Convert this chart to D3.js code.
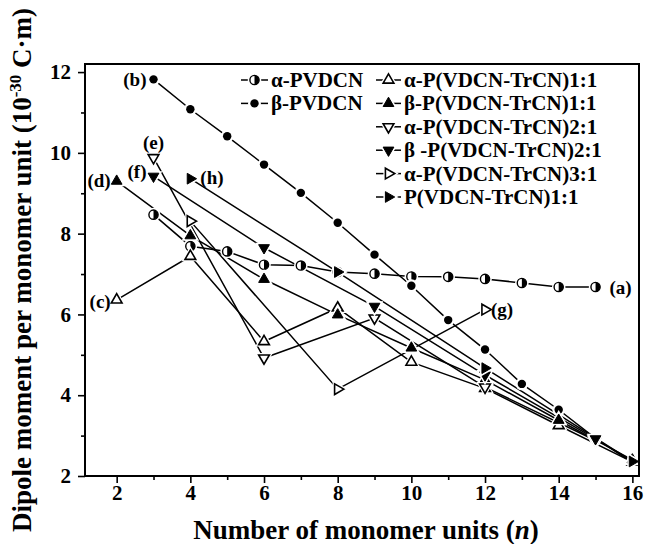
<!DOCTYPE html>
<html>
<head>
<meta charset="utf-8">
<script src="https://cdn.jsdelivr.net/npm/d3@7"></script>
<style>
  body { margin: 0; background: #fff; }
  text { font-family: "Liberation Serif", "Times New Roman", serif; font-weight: bold; fill: #000; }
</style>
</head>
<body>
<svg class="chart" width="646" height="544"></svg>
<script>
// DATA
var xTicks = [2, 4, 6, 8, 10, 12, 14, 16];
var xMinorTicks = [3, 5, 7, 9, 11, 13, 15];
var yTicks = [2, 4, 6, 8, 10, 12];
var yMinorTicks = [3, 5, 7, 9, 11];

var legendNames = ["α-PVDCN", "β-PVDCN", "α-P(VDCN-TrCN)1:1", "β-P(VDCN-TrCN)1:1",
                   "α-P(VDCN-TrCN)2:1", "β -P(VDCN-TrCN)2:1", "α-P(VDCN-TrCN)3:1", "P(VDCN-TrCN)1:1"];
var curveLabels = ["(a)", "(b)", "(c)", "(d)", "(e)", "(f)", "(g)", "(h)"];

var nA = [3, 4, 5, 6, 7, 8, 9, 10, 11, 12, 13, 14, 15];
var dipoleA = [8.47, 7.69, 7.56, 7.23, 7.21, 7.05, 7.01, 6.94, 6.93, 6.88, 6.78, 6.68, 6.68];
var nB = [3, 4, 5, 6, 7, 8, 9, 10, 11, 12, 13, 14, 15, 16];
var dipoleB = [11.82, 11.08, 10.41, 9.71, 9.01, 8.27, 7.48, 6.71, 5.86, 5.13, 4.28, 3.64, 2.93, 2.33];
var nC = [2, 4, 6, 8, 10, 12, 14, 16];
var dipoleC = [6.36, 7.44, 5.33, 6.16, 4.82, 4.17, 3.25, 2.35];
var nD = [2, 4, 6, 8, 10, 12, 14, 16];
var dipoleD = [9.30, 7.95, 6.87, 5.99, 5.17, 4.38, 3.38, 2.40];
var nE = [3, 6, 9, 12, 15];
var dipoleE = [9.88, 4.92, 5.91, 4.20, 2.88];
var nF = [3, 6, 9, 12, 15];
var dipoleF = [9.42, 7.65, 6.20, 4.50, 2.92];
var nG = [4, 8, 12];
var dipoleG = [8.31, 4.15, 6.12];
var nH = [4, 8, 12, 16];
var dipoleH = [9.36, 7.05, 4.67, 2.36];

// series table (marker + where the (x) tag goes)
var series = [
  {i: 0, n: nA, v: dipoleA, mark: "half",      tagAt: "last",  dx: 14,  dy: 7,   anchor: "start"},
  {i: 1, n: nB, v: dipoleB, mark: "dot",       tagAt: "first", dx: -7,  dy: 7,   anchor: "end"},
  {i: 2, n: nC, v: dipoleC, mark: "upOpen",    tagAt: "first", dx: -6,  dy: 8,   anchor: "end"},
  {i: 3, n: nD, v: dipoleD, mark: "up",        tagAt: "first", dx: -6,  dy: 6,   anchor: "end"},
  {i: 4, n: nE, v: dipoleE, mark: "downOpen",  tagAt: "first", dx: 0,   dy: -9,  anchor: "middle"},
  {i: 5, n: nF, v: dipoleF, mark: "down",      tagAt: "first", dx: -7,  dy: 2,   anchor: "end"},
  {i: 6, n: nG, v: dipoleG, mark: "rightOpen", tagAt: "last",  dx: 6,   dy: 6,   anchor: "start"},
  {i: 7, n: nH, v: dipoleH, mark: "right",     tagAt: "first", dx: 10,  dy: 5,   anchor: "start"}
];

var margin = {top: 64, right: 7, bottom: 68, left: 85},
    width = 646 - margin.left - margin.right,
    height = 544 - margin.top - margin.bottom;

var svg = d3.select(".chart");
var g = svg.append("g")
    .attr("transform", "translate(" + margin.left + "," + margin.top + ")");

var x = d3.scaleLinear().domain([1.14, 16.18]).range([0, width]);
var y = d3.scaleLinear().domain([2, 12.2]).range([height, 0]);

// MARKERS
var triPath = d3.symbol().type(d3.symbolTriangle).size(50)();
var rot = {up: 0, upOpen: 0, down: 180, downOpen: 180, right: 90, rightOpen: 90};

function drawMarker(sel, mark) {
  if (mark == "half" || mark == "dot") {
    var r = mark == "half" ? 4.6 : 4.2;
    sel.append("circle").attr("r", r + 2.2).attr("fill", "#fff");
    if (mark == "dot") {
      sel.append("circle").attr("r", r).attr("fill", "#000");
    } else {
      sel.append("circle").attr("r", r).attr("fill", "#fff")
          .attr("stroke", "#000").attr("stroke-width", 1.4);
      sel.append("path")
          .attr("d", "M0," + (-r) + "A" + r + "," + r + " 0 0 1 0," + r + "Z")
          .attr("fill", "#000");
    }
  } else {
    var open = mark.indexOf("Open") > 0;
    sel.append("path").attr("d", triPath)
        .attr("transform", "rotate(" + rot[mark] + ")")
        .attr("fill", "#fff").attr("stroke", "#fff").attr("stroke-width", 4);
    sel.append("path").attr("d", triPath)
        .attr("transform", "rotate(" + rot[mark] + ")")
        .attr("fill", open ? "#fff" : "#000")
        .attr("stroke", "#000").attr("stroke-width", open ? 1.6 : 1);
  }
}

// AXES
var xAxis = d3.axisBottom(x).tickValues(xTicks).tickSize(7).tickPadding(2).tickFormat(d3.format("d"));
var xMinor = d3.axisBottom(x).tickValues(xMinorTicks).tickSize(4).tickFormat("");
var yAxis = d3.axisLeft(y).tickValues(yTicks).tickSize(7).tickPadding(7).tickFormat(d3.format("d"));
var yMinor = d3.axisLeft(y).tickValues(yMinorTicks).tickSize(4).tickFormat("");

[[xAxis, "translate(0," + height + ")"], [xMinor, "translate(0," + height + ")"],
 [yAxis, "translate(0,0)"], [yMinor, "translate(0,0)"]].forEach(function(a) {
  var ax = g.append("g").attr("transform", a[1]).call(a[0]);
  ax.select(".domain").remove();
  ax.selectAll("line").attr("stroke", "#000").attr("stroke-width", 1.6);
  ax.selectAll("text")
      .style("font-family", "'Liberation Serif', 'Times New Roman', serif")
      .style("font-weight", "bold")
      .style("font-size", "21px")
      .attr("fill", "#000");
});

// LINES
var line = d3.line()
    .x(function(d) { return x(d[0]); })
    .y(function(d) { return y(d[1]); });

series.forEach(function(s) {
  var pts = s.n.map(function(n, k) { return [n, s.v[k]]; });
  g.append("path")
      .datum(pts)
      .attr("fill", "none")
      .attr("stroke", "#000")
      .attr("stroke-width", 1.5)
      .attr("d", line);
});

// POINTS
series.forEach(function(s) {
  s.n.forEach(function(n, k) {
    var m = g.append("g").attr("transform", "translate(" + x(n) + "," + y(s.v[k]) + ")");
    drawMarker(m, s.mark);
  });
});

// CURVE TAGS
series.forEach(function(s) {
  var k = s.tagAt == "first" ? 0 : s.n.length - 1;
  g.append("text")
      .attr("x", x(s.n[k]) + s.dx)
      .attr("y", y(s.v[k]) + s.dy)
      .attr("text-anchor", s.anchor)
      .style("font-size", "19px")
      .text(curveLabels[s.i]);
});

// FRAME
g.append("rect")
    .attr("width", width)
    .attr("height", height)
    .attr("fill", "none")
    .attr("stroke", "#000")
    .attr("stroke-width", 2);

// LEGEND
var legend = svg.append("g").attr("class", "legend");
series.forEach(function(s) {
  var col = s.i < 2 ? 0 : 1;
  var row = s.i < 2 ? s.i : s.i - 2;
  var x0 = col == 0 ? 241 : 376,
      x1 = col == 0 ? 268 : 401;
  var ly = 80 + row * 23.4;
  legend.append("line")
      .attr("x1", x0).attr("x2", x1)
      .attr("y1", ly).attr("y2", ly)
      .attr("stroke", "#000").attr("stroke-width", 1.5);
  drawMarker(legend.append("g").attr("transform", "translate(" + ((x0 + x1) / 2) + "," + ly + ")"), s.mark);
  legend.append("text")
      .attr("x", x1 + 3)
      .attr("y", ly + 7)
      .style("font-size", "21px")
      .text(legendNames[s.i]);
});

// AXIS TITLES
var xt = svg.append("text")
    .attr("x", margin.left + width / 2 + 4)
    .attr("y", 539)
    .attr("text-anchor", "middle")
    .style("font-size", "27px");
xt.append("tspan").text("Number of monomer units (");
xt.append("tspan").style("font-style", "italic").text("n");
xt.append("tspan").text(")");

var yt = svg.append("text")
    .attr("transform", "translate(31,270) rotate(-90)")
    .attr("text-anchor", "middle")
    .style("font-size", "27px");
yt.append("tspan").text("Dipole moment per monomer unit (10");
yt.append("tspan").attr("dy", -10).style("font-size", "17px").text("-30");
yt.append("tspan").attr("dy", 10).text(" C·m)");
</script>
</body>
</html>
